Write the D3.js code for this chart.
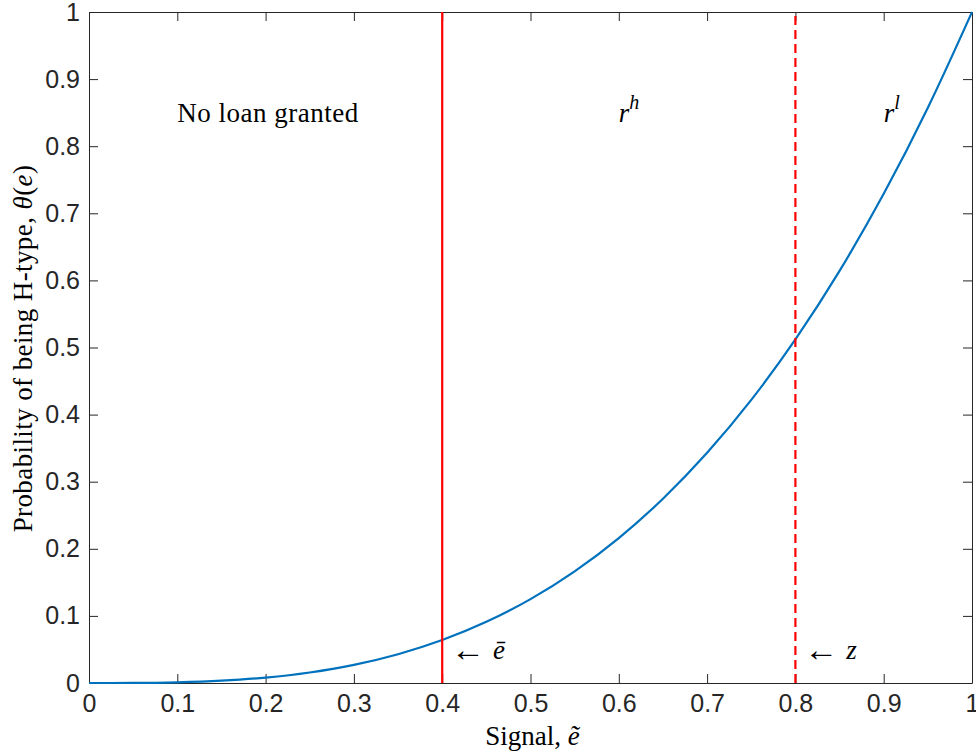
<!DOCTYPE html>
<html>
<head>
<meta charset="utf-8">
<script src="https://cdn.jsdelivr.net/npm/d3@7"></script>
<style>
  body { margin: 0; background: #fff; }
  .tick text { font-family: "Liberation Sans", Arial, sans-serif; font-size: 25px; fill: #262626; }
  .lbl { font-family: "Liberation Serif", "DejaVu Serif", serif; font-size: 27px; fill: #000; }
</style>
</head>
<body>
<div id="chart"></div>
<script>
// values
var signal = [0, 0.05, 0.1, 0.15, 0.2, 0.25, 0.3, 0.35, 0.4, 0.45, 0.5,
              0.55, 0.6, 0.65, 0.7, 0.75, 0.8, 0.85, 0.9, 0.95, 1];
var prob = [0, 0.0001, 0.001, 0.0034, 0.008, 0.0156, 0.027, 0.0429, 0.064, 0.0911, 0.125,
            0.1664, 0.216, 0.2746, 0.343, 0.4219, 0.512, 0.6141, 0.729, 0.8574, 1];
var eBar = 0.4, zCut = 0.8;
var xTicks = [0, 0.1, 0.2, 0.3, 0.4, 0.5, 0.6, 0.7, 0.8, 0.9, 1];
var yTicks = [0, 0.1, 0.2, 0.3, 0.4, 0.5, 0.6, 0.7, 0.8, 0.9, 1];

var W = 976, H = 756;
var margin = {top: 12, right: 4, bottom: 73, left: 89};
var width = W - margin.left - margin.right,
    height = H - margin.top - margin.bottom;

var svg = d3.select("#chart").append("svg")
    .attr("width", W).attr("height", H)
  .append("g")
    .attr("transform", "translate(" + margin.left + "," + margin.top + ")");

var x = d3.scaleLinear().domain([0, 1]).range([0, width]);
var y = d3.scaleLinear().domain([0, 1]).range([height, 0]);

// axes with inward ticks (matlab style)
var fmt = function(d) { return d === 0 || d === 1 ? d3.format("d")(d) : d3.format(".1f")(d); };
svg.append("g").attr("transform", "translate(0," + height + ")")
  .call(d3.axisBottom(x).tickValues(xTicks).tickFormat(fmt).tickSizeInner(-9).tickSizeOuter(0).tickPadding(11));
svg.append("g")
  .call(d3.axisLeft(y).tickValues(yTicks).tickFormat(fmt).tickSizeInner(-9).tickSizeOuter(0).tickPadding(9));
// top & right ticks
svg.append("g").call(d3.axisTop(x).tickValues(xTicks).tickFormat("").tickSizeInner(-9).tickSizeOuter(0));
svg.append("g").attr("transform", "translate(" + width + ",0)")
  .call(d3.axisRight(y).tickValues(yTicks).tickFormat("").tickSizeInner(-9).tickSizeOuter(0));
svg.selectAll(".domain, .tick line").attr("stroke", "#262626").attr("stroke-width", 1);

// curve
var pts = signal.map(function(s, i) { return [s, prob[i]]; });
svg.append("path")
  .datum(pts)
  .attr("fill", "none")
  .attr("stroke", "#0072BD")
  .attr("stroke-width", 2.2)
  .attr("d", d3.line().curve(d3.curveMonotoneX)
    .x(function(d) { return x(d[0]); })
    .y(function(d) { return y(d[1]); }));

// cutoffs
svg.append("line")
  .attr("x1", x(eBar)).attr("x2", x(eBar)).attr("y1", y(0)).attr("y2", y(1))
  .attr("stroke", "#ff0000").attr("stroke-width", 2.2);
svg.append("line")
  .attr("x1", x(zCut)).attr("x2", x(zCut)).attr("y1", y(0)).attr("y2", y(1))
  .attr("stroke", "#ff0000").attr("stroke-width", 2.2)
  .attr("stroke-dasharray", "9,5");

// region labels
svg.append("text").attr("class", "lbl")
  .attr("x", x(0.1)).attr("y", y(0.85)).attr("dy", "0.35em")
  .attr("letter-spacing", "0.5px")
  .text("No loan granted");
var rh = svg.append("text").attr("class", "lbl")
  .attr("x", x(0.6)).attr("y", y(0.85)).attr("dy", "0.35em");
rh.append("tspan").attr("font-style", "italic").text("r");
rh.append("tspan").attr("font-style", "italic").attr("font-size", "20px").attr("dy", "-0.65em").text("h");
var rl = svg.append("text").attr("class", "lbl")
  .attr("x", x(0.9)).attr("y", y(0.85)).attr("dy", "0.35em");
rl.append("tspan").attr("font-style", "italic").text("r");
rl.append("tspan").attr("font-style", "italic").attr("font-size", "20px").attr("dy", "-0.65em").text("l");

// cutoff annotations
function arrowLabel(xv, sym) {
  var t = svg.append("text").attr("class", "lbl")
    .attr("x", x(xv + 0.01)).attr("y", y(0.05) + 12);
  t.append("tspan").attr("font-size", "34px").text("\u2190");
  t.append("tspan").attr("font-style", "italic").attr("dx", "8").attr("dy", "-2").text(sym);
}
arrowLabel(eBar, "\u0113");
arrowLabel(zCut, "z");

// axis titles
var xl = svg.append("text").attr("class", "lbl")
  .attr("text-anchor", "middle")
  .attr("x", width / 2 + 2).attr("y", height + 62);
xl.append("tspan").text("Signal, ");
xl.append("tspan").attr("font-style", "italic").text("\u1EBD");

var yl = svg.append("text").attr("class", "lbl")
  .attr("text-anchor", "middle")
  .attr("letter-spacing", "0.4px")
  .attr("transform", "translate(" + (-57) + "," + (height / 2 + 1) + ") rotate(-90)");
yl.append("tspan").text("Probability of being H-type, ");
yl.append("tspan").attr("font-style", "italic").text("\u03B8");
yl.append("tspan").text("(");
yl.append("tspan").attr("font-style", "italic").text("e");
yl.append("tspan").text(")");
</script>
</body>
</html>
